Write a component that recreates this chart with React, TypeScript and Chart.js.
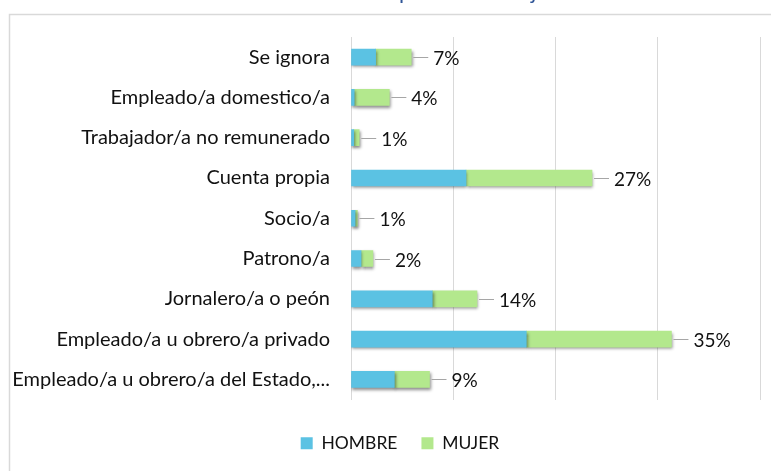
import React, { useEffect, useRef } from "react";
import { Chart, registerables } from "chart.js";

Chart.register(...registerables);

const categories = [
  "Se ignora",
  "Empleado/a domestico/a",
  "Trabajador/a no remunerado",
  "Cuenta propia",
  "Socio/a",
  "Patrono/a",
  "Jornalero/a o peón",
  "Empleado/a u obrero/a privado",
  "Empleado/a u obrero/a del Estado,...",
];
const hombre = [2.7, 0.35, 0.3, 12.6, 0.45, 1.1, 8.9, 19.2, 4.75];
const mujer = [3.9, 3.85, 0.6, 13.8, 0.25, 1.3, 4.9, 15.9, 3.85];
const totalLabels = ["7%", "4%", "1%", "27%", "1%", "2%", "14%", "35%", "9%"];
const seriesNames = ["HOMBRE", "MUJER"];
const seriesColors = ["#5BC2E3", "#B3E88D"];
const titleText = "Posición en el empleo del trabajo";

const FONT = "Lato";
const TEXT = "#111111";

export default function App() {
  const ref = useRef<HTMLCanvasElement | null>(null);

  useEffect(() => {
    document.body.style.margin = "0";
    const canvas = ref.current;
    if (!canvas) return;

    const framePlugin = {
      id: "frame",
      afterLayout(chart: any) {
        if (chart.legend) chart.legend.left += 30;
      },
      beforeDraw(chart: any) {
        const ctx = chart.ctx;
        ctx.save();
        ctx.strokeStyle = "#d9d9d9";
        ctx.lineWidth = 1.5;
        ctx.beginPath();
        ctx.moveTo(9.5, chart.height + 5);
        ctx.lineTo(9.5, 14.5);
        ctx.lineTo(chart.width + 5, 14.5);
        ctx.stroke();
        // title (mostly cut off above the frame)
        ctx.font = `22px ${FONT}`;
        ctx.fillStyle = "#2F5597";
        ctx.textBaseline = "alphabetic";
        ctx.textAlign = "left";
        const pre = ctx.measureText("Posición en el em").width;
        ctx.fillText(titleText, 399 - pre, -1);
        ctx.restore();
      },
    };

    const shadowPlugin = {
      id: "barShadow",
      beforeDatasetsDraw(chart: any) {
        const ctx = chart.ctx;
        ctx.save();
        ctx.shadowColor = "rgba(0,0,0,0.45)";
        ctx.shadowBlur = 3;
        ctx.shadowOffsetX = 1;
        ctx.shadowOffsetY = 2;
      },
      afterDatasetsDraw(chart: any) {
        chart.ctx.restore();
      },
    };

    const labelPlugin = {
      id: "totals",
      afterDatasetsDraw(chart: any) {
        const ctx = chart.ctx;
        const meta = chart.getDatasetMeta(chart.data.datasets.length - 1);
        ctx.save();
        ctx.font = `19px ${FONT}`;
        ctx.fillStyle = TEXT;
        ctx.textBaseline = "middle";
        ctx.textAlign = "left";
        meta.data.forEach((el: any, i: number) => {
          const x = el.x;
          const y = Math.round(el.y) + 0.5;
          ctx.strokeStyle = "#a6a6a6";
          ctx.lineWidth = 1;
          ctx.beginPath();
          ctx.moveTo(x + 2, y);
          ctx.lineTo(x + 17, y);
          ctx.stroke();
          ctx.fillText(totalLabels[i], x + 22, y + 1);
        });
        ctx.restore();
      },
    };

    const chart = new Chart(canvas, {
      type: "bar",
      data: {
        labels: categories,
        datasets: [
          {
            label: seriesNames[0],
            data: hombre,
            backgroundColor: seriesColors[0],
            barThickness: 16,
          },
          {
            label: seriesNames[1],
            data: mujer,
            backgroundColor: seriesColors[1],
            barThickness: 16,
          },
        ],
      },
      options: {
        indexAxis: "y",
        responsive: false,
        animation: false,
        layout: { padding: { left: 10, right: 11, top: 37, bottom: 9 } },
        scales: {
          x: {
            stacked: true,
            min: 0,
            max: 44.8,
            ticks: { display: false, stepSize: 11.2 },
            grid: { color: "#d9d9d9", drawTicks: false, lineWidth: 1 },
            border: { display: false },
            afterFit: (s: any) => {
              s.height = 11;
            },
          },
          y: {
            stacked: true,
            grid: { display: false, drawTicks: false },
            border: { display: false },
            ticks: {
              padding: 21,
              color: TEXT,
              font: { family: FONT, size: 20 },
            },
            afterFit: (s: any) => {
              s.width = 341;
            },
          },
        },
        plugins: {
          legend: {
            position: "bottom",
            labels: {
              boxWidth: 12,
              boxHeight: 12,
              padding: 24,
              color: TEXT,
              font: { family: FONT, size: 17.5 },
            },
          },
          tooltip: { enabled: false },
        },
      },
      plugins: [framePlugin, shadowPlugin, labelPlugin],
    } as any);

    return () => chart.destroy();
  }, []);

  return (
    <div style={{ width: 771, height: 471, overflow: "hidden", background: "#fff" }}>
      <canvas ref={ref} width={771} height={471} style={{ display: "block" }} />
    </div>
  );
}
